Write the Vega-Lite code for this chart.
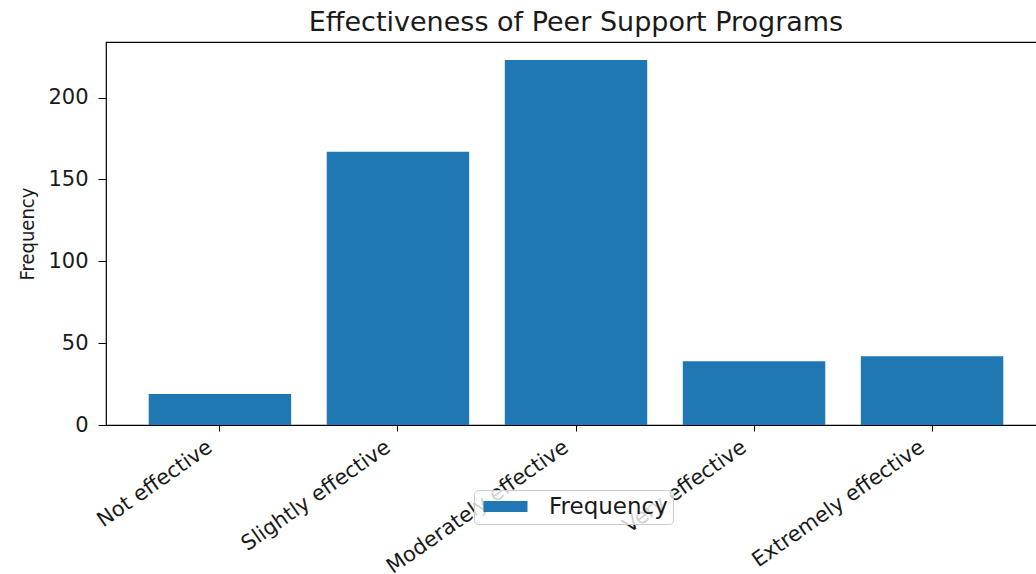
{
  "$schema": "https://vega.github.io/schema/vega-lite/v6.json",
  "autosize": {"type": "none"},
  "padding": {"left": 106, "top": 42, "right": 0, "bottom": 149},
  "width": 940,
  "height": 383,
  "background": "white",
  "title": {
    "text": "Effectiveness of Peer Support Programs",
    "font": "DejaVu Sans",
    "fontSize": 27,
    "fontWeight": "normal",
    "color": "#1a1a1a",
    "anchor": "middle",
    "offset": 5
  },
  "data": {
    "values": [
      {"category": "Not effective", "frequency": 19},
      {"category": "Slightly effective", "frequency": 167},
      {"category": "Moderately effective", "frequency": 223},
      {"category": "Very effective", "frequency": 39},
      {"category": "Extremely effective", "frequency": 42}
    ]
  },
  "mark": {"type": "bar", "color": "#1f77b4"},
  "encoding": {
    "x": {
      "field": "category",
      "type": "nominal",
      "sort": null,
      "scale": {"paddingInner": 0.2, "paddingOuter": 0.24},
      "axis": {
        "title": null,
        "labelAngle": -35,
        "labelAlign": "right",
        "labelBaseline": "top",
        "labelFont": "DejaVu Sans",
        "labelFontSize": 21,
        "labelColor": "#1a1a1a",
        "labelPadding": 5,
        "labelOffset": -16,
        "tickSize": 6,
        "tickColor": "#000",
        "domain": false,
        "labelOverlap": false,
        "labelLimit": 400
      }
    },
    "y": {
      "field": "frequency",
      "type": "quantitative",
      "scale": {"domain": [0, 234], "nice": false, "zero": true},
      "axis": {
        "title": "Frequency",
        "titleFont": "DejaVu Sans Condensed, DejaVu Sans",
        "titleFontSize": 20,
        "titleFontWeight": "normal",
        "titleColor": "#1a1a1a",
        "titlePadding": 10,
        "values": [0, 50, 100, 150, 200],
        "grid": false,
        "labelFont": "DejaVu Sans",
        "labelFontSize": 21,
        "labelColor": "#1a1a1a",
        "labelPadding": 10,
        "tickSize": 8,
        "tickColor": "#000",
        "domain": false
      }
    },
    "color": {
      "datum": "Frequency",
      "scale": {"range": ["#1f77b4"]},
      "legend": {
        "title": null,
        "orient": "none",
        "legendX": 368,
        "legendY": 448,
        "symbolType": "M-2,-0.5H2V0.5H-2Z",
        "symbolSize": 484,
        "symbolStrokeWidth": 0,
        "symbolOpacity": 1,
        "symbolOffset": 15,
        "labelFont": "DejaVu Sans",
        "labelFontSize": 23,
        "labelColor": "#1a1a1a",
        "labelOffset": 32,
        "padding": 5,
        "fillColor": "rgba(255,255,255,0.8)",
        "strokeColor": "#cccccc",
        "cornerRadius": 4
      }
    }
  },
  "config": {
    "view": {"stroke": "#000", "strokeWidth": 1.2}
  }
}
